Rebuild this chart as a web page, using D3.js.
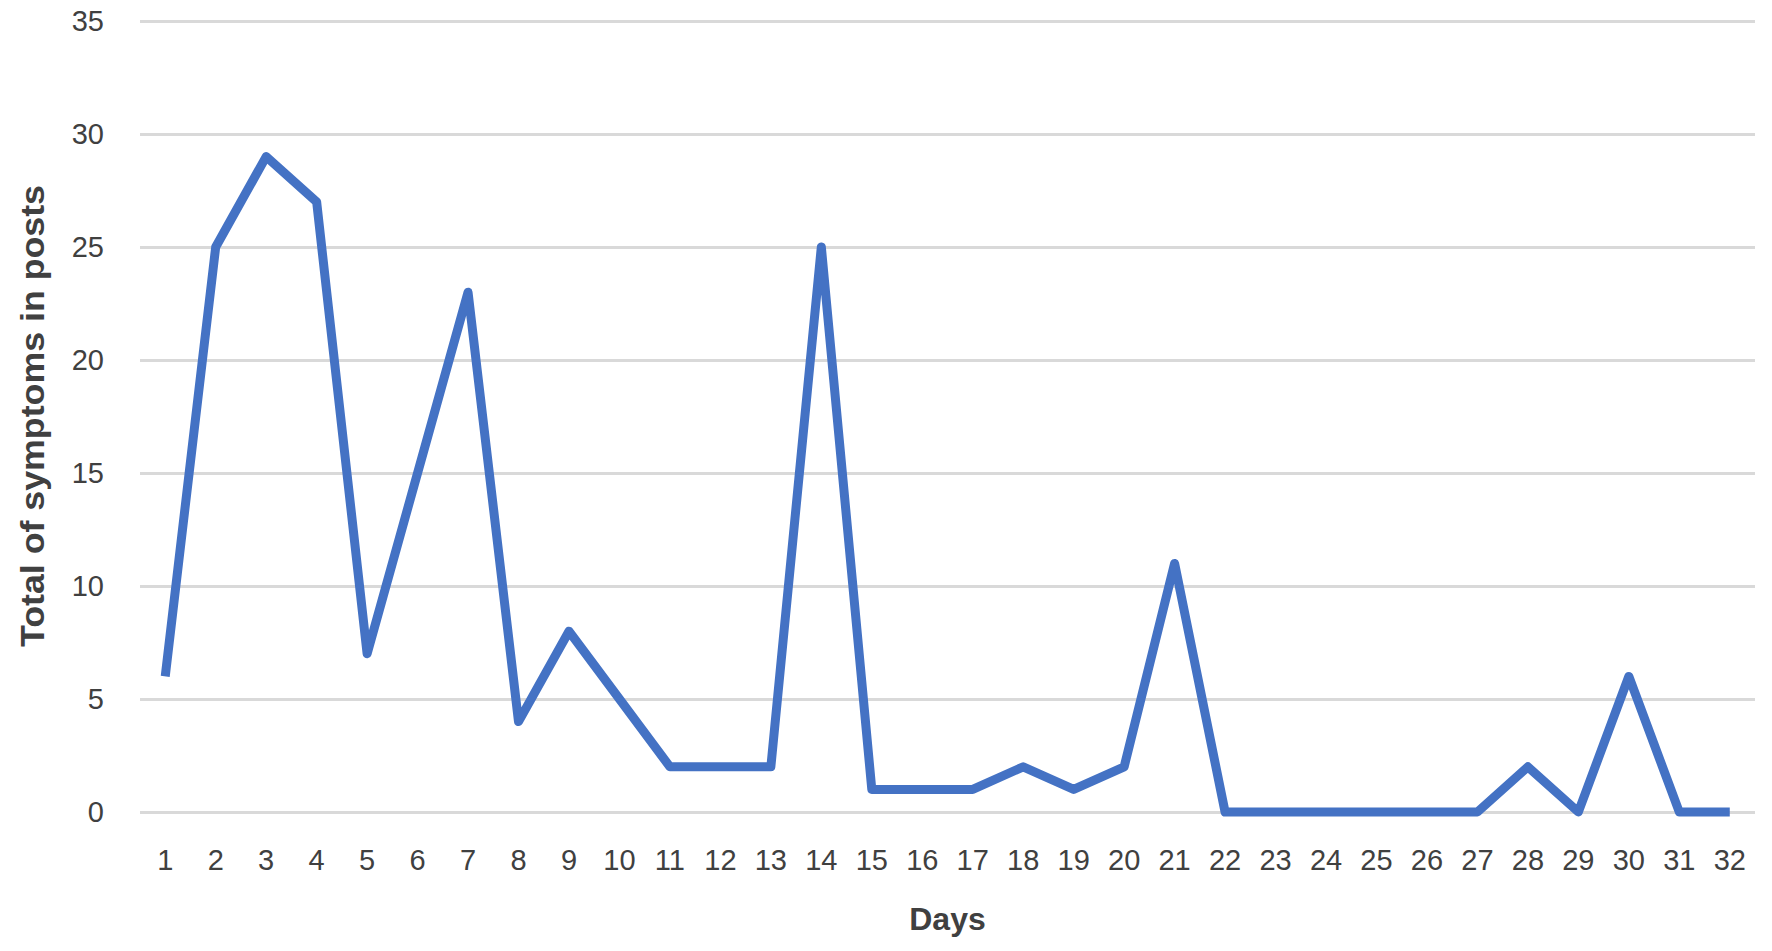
<!DOCTYPE html>
<html lang="en"><head><meta charset="UTF-8">
<title>Total of symptoms in posts</title>
<script src="https://d3js.org/d3.v7.min.js"></script>
<style>
  body { margin: 0; background: #fff; }
  svg text { font-family: 'Liberation Sans', Arial, sans-serif; fill: #404040; }
  .grid line { stroke: #d9d9d9; stroke-width: 3; }
  .grid path { display: none; }
</style>
</head>
<body>
<svg id="chart" width="1772" height="951"></svg>
<script>
var days = d3.range(1, 33);
var totals = [6, 25, 29, 27, 7, 15, 23, 4, 8, 5, 2, 2, 2, 25, 1, 1, 1, 2, 1, 2, 11, 0, 0, 0, 0, 0, 0, 2, 0, 6, 0, 0];
var yTicks = [0, 5, 10, 15, 20, 25, 30, 35];

var svg = d3.select('#chart');
// plot area edges (window.top is reserved, so use other names)
var plotL = 140, plotR = 1755, plotT = 21, plotB = 812;

var x = d3.scaleBand().domain(days).range([plotL, plotR]);
var y = d3.scaleLinear().domain([0, 35]).range([plotB, plotT]);

// horizontal gridlines
svg.append('g')
  .attr('class', 'grid')
  .attr('transform', 'translate(' + plotL + ',0)')
  .call(d3.axisLeft(y).tickValues(yTicks).tickSize(-(plotR - plotL)).tickFormat(''));

// y tick labels
svg.selectAll('.ylab')
  .data(yTicks)
  .enter().append('text')
  .attr('class', 'ylab')
  .attr('x', 104)
  .attr('y', function(d){ return y(d); })
  .attr('dy', '0.36em')
  .attr('text-anchor', 'end')
  .style('font-size', '29px')
  .text(function(d){ return d; });

// x tick labels
svg.selectAll('.xlab')
  .data(days)
  .enter().append('text')
  .attr('class', 'xlab')
  .attr('x', function(d){ return x(d) + x.bandwidth() / 2; })
  .attr('y', 870)
  .attr('text-anchor', 'middle')
  .style('font-size', '29px')
  .text(function(d){ return d; });

// the line
var line = d3.line()
  .x(function(d, i){ return x(days[i]) + x.bandwidth() / 2; })
  .y(function(d){ return y(d); });

svg.append('path')
  .datum(totals)
  .attr('d', line)
  .attr('fill', 'none')
  .attr('stroke', '#4472c4')
  .attr('stroke-width', 9)
  .attr('stroke-linejoin', 'round')
  .attr('stroke-linecap', 'butt');

// axis titles
svg.append('text')
  .attr('x', (plotL + plotR) / 2)
  .attr('y', 930)
  .attr('text-anchor', 'middle')
  .style('font-size', '32px')
  .style('font-weight', 'bold')
  .text('Days');

svg.append('text')
  .attr('transform', 'translate(44,416) rotate(-90)')
  .attr('text-anchor', 'middle')
  .attr('textLength', 462)
  .attr('lengthAdjust', 'spacingAndGlyphs')
  .style('font-size', '33px')
  .style('font-weight', 'bold')
  .text('Total of symptoms in posts');
</script>
</body></html>
